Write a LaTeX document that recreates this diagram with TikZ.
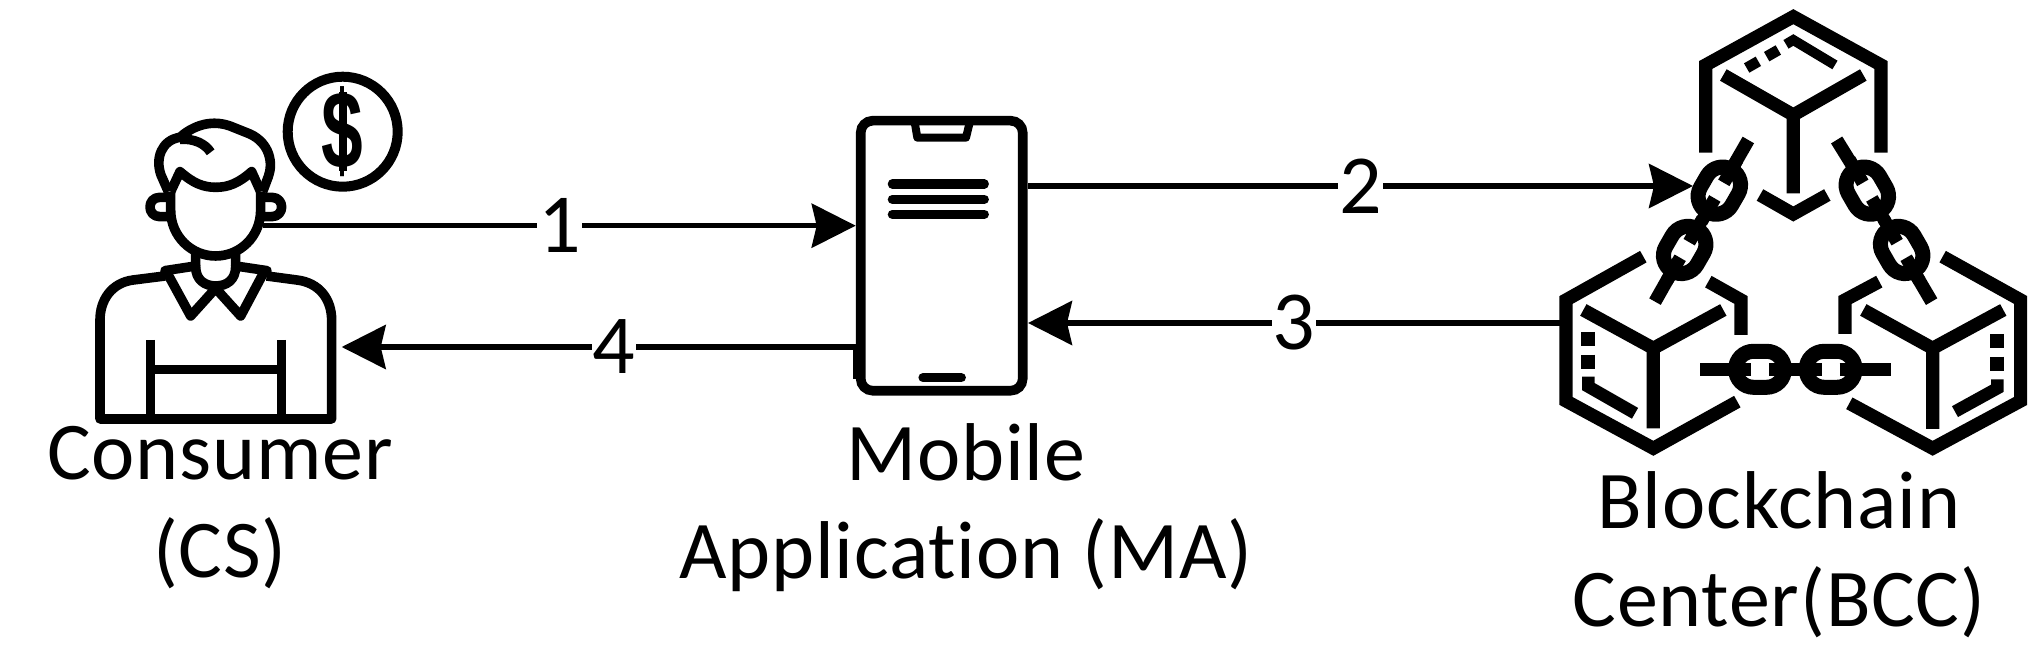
\documentclass[tikz,border=0pt]{standalone}
\usepackage{fontspec}
\setmainfont{Carlito}[Ligatures=NoCommon, LetterSpace=1]
\newfontfamily\coinfont{Liberation Sans}
\usetikzlibrary{arrows.meta, positioning}

\tikzset{
    flow/.style={line width=2.6pt, -{Stealth[length=22pt,width=22pt,inset=2.5pt]}},
    numlabel/.style={fill=white, inner sep=0.5pt, font=\fontsize{42}{48}\selectfont},
    caption/.style={align=center, inner sep=0pt, font=\fontsize{41}{49}\selectfont},
    icon/.style={line width=4.8pt, line join=round, line cap=butt},
    block/.style={line width=6.6pt, line join=miter, line cap=butt},
    chainlink/.pic={
        \draw[line width=7.5pt, rounded corners=9pt] (-73.5,-54) rectangle (73.5,54);
        \foreach \s in {-1,1} {
            \draw[line width=6.5pt] (\s*27,0) -- (\s*108,0);
        }
    }
}

\begin{document}
\begin{tikzpicture}[x=0.5pt, y=-0.5pt]
    \useasboundingbox (0,0) rectangle (2044,668);

    % consumer
    \begin{scope}[shift={(80,60)}, scale=0.3333, icon]
        \draw (255,648) -- (160,660) .. controls (95,668) and (60,720) .. (60,780) -- (60,1077) -- (755,1077) -- (755,780) .. controls (755,720) and (720,668) .. (650,660) -- (560,648);
        \draw (211,840) -- (211,1077) (604,840) -- (604,1077) (211,929) -- (604,929);
        \draw[line cap=round] (255,632) -- (347,618) (561,632) -- (467,618);
        \draw (262,640) -- (332,768) -- (407,685) -- (482,768) -- (550,640);
        \draw (347,575) -- (347,620) .. controls (347,660) and (375,678) .. (407,678) .. controls (440,678) and (467,660) .. (467,620) -- (467,575);
        \draw (272,395) -- (272,450) .. controls (272,530) and (335,588) .. (407,588) .. controls (480,588) and (542,530) .. (542,450) -- (542,395);
        \draw (272,395) -- (300,335) .. controls (340,370) and (370,382) .. (407,382) .. controls (445,382) and (475,370) .. (515,335) -- (542,395);
        \draw (265,395) -- (243,345) .. controls (225,295) and (245,240) .. (300,232) .. controls (330,205) and (385,175) .. (450,198) -- (510,222) .. controls (570,250) and (580,310) .. (565,350) -- (548,395);
        \draw (300,238) .. controls (340,235) and (375,250) .. (392,277);
        \draw (262,412) -- (240,412) .. controls (200,412) and (200,470) .. (240,470) -- (268,470);
        \draw (555,412) -- (575,412) .. controls (615,412) and (615,470) .. (575,470) -- (548,470);
    \end{scope}
    \node (coin) [circle, draw, line width=5pt, minimum size=55pt, inner sep=0pt, outer sep=0pt] at (342.7,131.7) {};
    \node (dollar) [font=\fontsize{48}{48}\selectfont\coinfont\bfseries, xscale=0.78, yscale=1.15, inner sep=0pt] at (coin) {\$};
    \draw[line width=4pt] (dollar.center |- 0,92.3) -- (dollar.center |- 0,170.7);

    % phone
    \node (phone) [draw, line width=4.8pt, rounded corners=6pt, minimum width=81pt, minimum height=135pt, inner sep=0pt, outer sep=0pt] at (941.7,255.7) {};
    \begin{scope}[shift={(840,100)}, scale=0.3333]
        \draw[line width=4pt, line join=round] (225,72) -- (232,113) -- (378,113) -- (388,72);
        \foreach \y in {252,298,343} {
            \draw[line width=4.6pt, line cap=round] (157,\y) -- (433,\y);
        }
        \draw[line width=4.6pt, line cap=round] (249,833) -- (364,833);
        \draw[line width=1.6pt] (45,742) -- (45,838);
    \end{scope}

    % blockchain
    \begin{scope}[shift={(1540,0)}, scale=0.3333, block]
        \draw (497,458) -- (497,195) -- (760,50) -- (1023,195) -- (1023,458);
        \draw (550,225) -- (760,345) -- (970,225) (760,345) -- (760,580);
        \draw (660,585) -- (760,642) -- (862,585);
        \draw[line width=5pt] (738,133) -- (760,120) -- (885,195);
        \draw[line width=5.4pt] (620,204) -- (655,184) (680,170) -- (715,150);

        \draw (310,770) -- (78,900) -- (78,1203) -- (340,1345) -- (592,1205);
        \draw (130,930) -- (340,1045) -- (550,930) (340,1045) -- (340,1285);
        \draw (505,845) -- (603,900) -- (603,1005);
        \draw[line width=7pt] (145,996) -- (145,1038) (145,1064) -- (145,1106);
        \draw[line width=6.2pt] (145,1130) -- (145,1160) -- (285,1240);

        \draw (1208,770) -- (1442,900) -- (1442,1203) -- (1178,1345) -- (928,1210);
        \draw (970,930) -- (1178,1045) -- (1390,930) (1178,1045) -- (1178,1287);
        \draw (1018,845) -- (915,900) -- (915,1002);
        \draw[line width=7pt] (1372,1002) -- (1372,1044) (1372,1070) -- (1372,1112);
        \draw[line width=6.2pt] (1372,1138) -- (1372,1165) -- (1245,1235);

        \draw (625,420) -- (575,507) (397,813) -- (345,905);
        \draw (890,420) -- (945,509) (1121,813) -- (1175,905);
        \draw (480,1108) -- (590,1108) (945,1108) -- (1053,1108);
        \pic[rotate=60, transform shape] at (538,572) {chainlink};
        \pic[rotate=60, transform shape] at (434,750) {chainlink};
        \pic[rotate=-60, transform shape] at (982,572) {chainlink};
        \pic[rotate=-60, transform shape] at (1085,750) {chainlink};
        \pic[transform shape] at (660,1108) {chainlink};
        \pic[transform shape] at (872,1108) {chainlink};
    \end{scope}

    % ports
    \coordinate (csout) at (263,225.7);
    \coordinate (csin) at (341.7,347);
    \coordinate (maleft) at (855.7,225.7);
    \coordinate (maout) at (855.7,347);
    \coordinate (maright) at (1028,186);
    \coordinate (main) at (1028,323);
    \coordinate (bccin) at (1693,186);
    \coordinate (bccout) at (1560,323);

    \draw[flow] (csout) -- node[numlabel] {1} (maleft);
    \draw[flow] (maright) -- node[numlabel] {2} (bccin);
    \draw[flow] (bccout) -- node[numlabel] {3} (main);
    \draw[flow] (maout) -- node[numlabel, pos=0.47] {4} (csin);

    \node (cscap) [caption] at (220,508) {Consumer\\(CS)};
    \node (macap) [caption] at (966,508) {Mobile\\Application (MA)};
    \node (bcccap) [caption] at (1779,555) {Blockchain\\Center(BCC)};
\end{tikzpicture}
\end{document}
